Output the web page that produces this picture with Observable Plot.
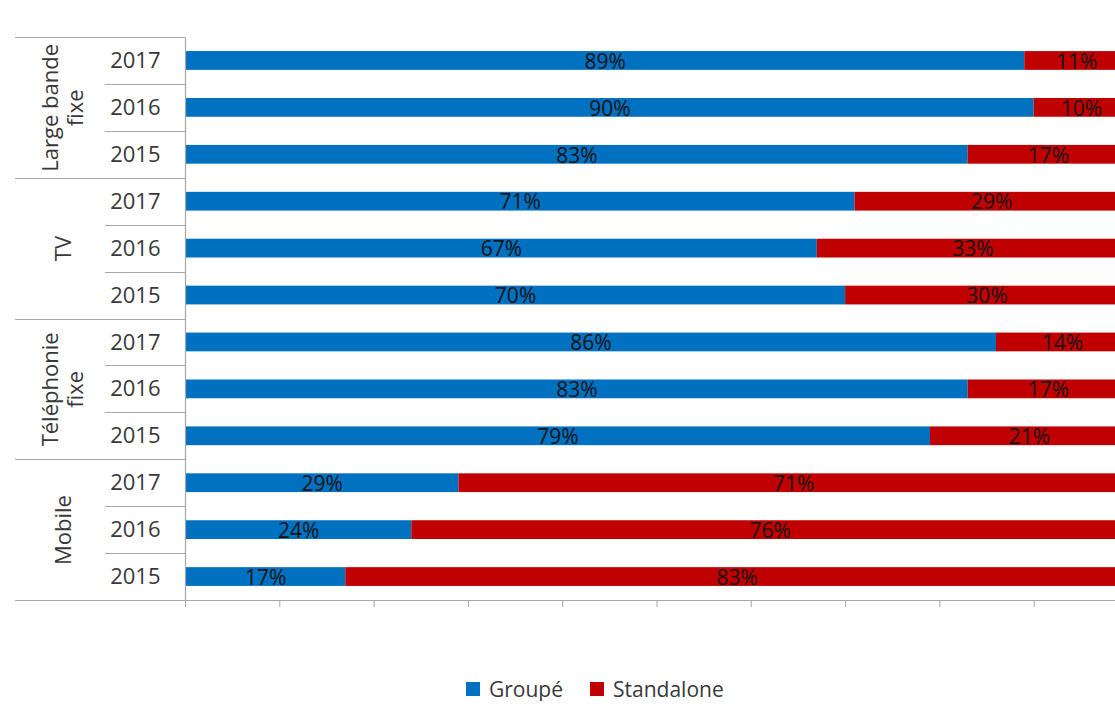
<!DOCTYPE html>
<html>
<head>
<meta charset="utf-8">
<script src="https://cdn.jsdelivr.net/npm/d3@7"></script>
<script src="https://cdn.jsdelivr.net/npm/@observablehq/plot@0.6"></script>
<style>
  body { margin: 0; background: #fff; overflow: hidden; font-family: "Open Sans", sans-serif; }
  #chart svg { display: block; }
  .legend { display: flex; align-items: center; margin-top: 57px; padding-left: 466px;
            font-size: 21px; line-height: 24px; color: #383838; }
  .legend .item { display: flex; align-items: center; margin-right: 27px; }
  .legend .sw { display: inline-block; width: 14px; height: 14px; margin-right: 9px; }
</style>
</head>
<body>
<div id="chart"></div>
<script>
// Services, years and the share of subscriptions taken in a bundle ("Groupé") or alone
const categories = ["Large bande fixe", "TV", "Téléphonie fixe", "Mobile"];
const categoryLabels = ["Large bande\nfixe", "TV", "Téléphonie\nfixe", "Mobile"];
const years = ["2017", "2016", "2015"];
const series = ["Groupé", "Standalone"];
const seriesColors = ["#0070C0", "#C00000"];
// one value per (service, year), in the order above
const groupe = [89, 90, 83, 71, 67, 70, 86, 83, 79, 29, 24, 17];
const standalone = [11, 10, 17, 29, 33, 30, 14, 17, 21, 71, 76, 83];
const xTicks = [0, 10, 20, 30, 40, 50, 60, 70, 80, 90, 100];

const rows = categories.flatMap(c => years.map(y => ({category: c, year: y, key: `${c} ${y}`})));
const keys = rows.map(r => r.key);
const shares = rows.flatMap((r, i) => [
  {...r, series: series[0], value: groupe[i]},
  {...r, series: series[1], value: standalone[i]}
]);

// left ends of the separator lines in the category column
const groupLineStart = 15;
const yearLineStart = 105;
const lineColor = "#a6a6a6";
const textColor = "#383838";

// separator grid of the two-level category axis, plus the axis lines
function categoryGrid(index, scales, values, dimensions) {
  const y = scales.y;
  const {width, marginLeft} = dimensions;
  const bw = typeof y.bandwidth === "function" ? y.bandwidth() : 0;
  const step = y(keys[1]) - y(keys[0]);
  const center = k => y(k) + bw / 2;
  const crisp = v => Math.round(v) + 0.5;
  const g = d3.create("svg:g").attr("stroke", lineColor).attr("stroke-width", 1.2);
  rows.forEach((r, i) => {
    const top = crisp(center(r.key) - step / 2);
    const left = i % years.length === 0 ? groupLineStart : yearLineStart;
    g.append("line").attr("x1", left).attr("x2", marginLeft).attr("y1", top).attr("y2", top);
  });
  const top = crisp(center(keys[0]) - step / 2);
  const bottom = crisp(center(keys[keys.length - 1]) + step / 2);
  g.append("line").attr("x1", groupLineStart).attr("x2", width).attr("y1", bottom).attr("y2", bottom);
  g.append("line").attr("x1", crisp(marginLeft)).attr("x2", crisp(marginLeft)).attr("y1", top).attr("y2", bottom);
  return g.node();
}

const chart = Plot.plot({
  width: 1115,
  height: 620,
  marginLeft: 185,
  marginRight: 0,
  marginTop: 37,
  marginBottom: 20,
  style: {fontFamily: "Open Sans", fontSize: "22px", color: textColor, overflow: "hidden", background: "#fff"},
  x: {domain: [0, 100], range: [185, 1128], label: null},
  y: {domain: keys, paddingInner: 0.6, paddingOuter: 0.3, round: false, label: null},
  color: {domain: series, range: seriesColors},
  marks: [
    Plot.barX(shares, {x: "value", y: "key", fill: "series"}),
    Plot.text(shares, Plot.stackX({
      x: "value", y: "key", text: d => `${d.value}%`,
      fontSize: 21, fill: "#141414", dy: 1
    })),
    Plot.axisY({tickSize: 0, tickPadding: 25, tickFormat: k => k.slice(-4), fontSize: 22, label: null}),
    Plot.text(categories, {
      y: c => `${c} ${years[1]}`, text: (c, i) => categoryLabels[i],
      frameAnchor: "left", textAnchor: "middle", lineAnchor: "middle",
      dx: -123, rotate: -90, fontSize: 22, lineHeight: 1.15, fill: textColor
    }),
    Plot.axisX({ticks: xTicks, tickSize: 7, tickFormat: () => "", stroke: lineColor, label: null}),
    categoryGrid
  ]
});

document.getElementById("chart").append(chart);

// legend below the chart
const legend = d3.select("body").append("div").attr("class", "legend");
series.forEach((s, i) => {
  const item = legend.append("div").attr("class", "item");
  item.append("span").attr("class", "sw").style("background", seriesColors[i]);
  item.append("span").text(s);
});
</script>
</body>
</html>
